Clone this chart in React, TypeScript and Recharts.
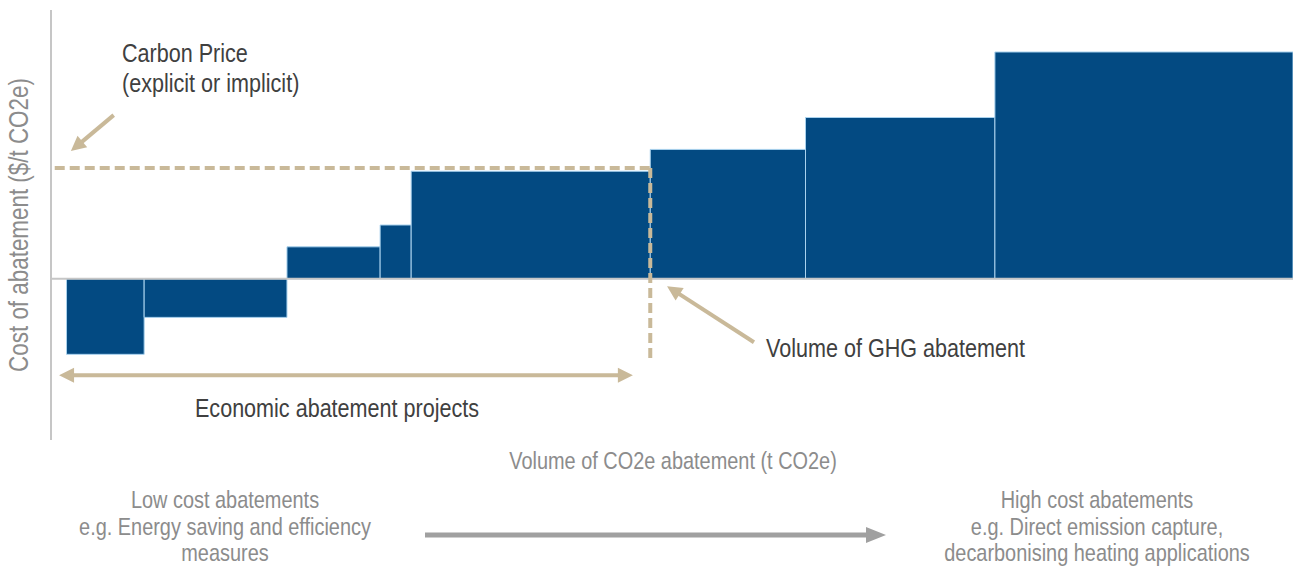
import { ComposedChart, XAxis, YAxis, ReferenceArea, ReferenceLine } from 'recharts'

// abatement projects, ordered by cost (volume in t CO2e units, cost in $/t CO2e)
const startVolume = 2.5
const volumes = [12.5, 23, 15, 5, 38.5, 25, 30.5, 48]
const costs = [-22.5, -11.5, 9.5, 16, 32, 38.5, 48, 67.5]
const carbonPrice = 33
const economicEnd = 96.5

// annotation arrows in chart units: [x1, y1, x2, y2]
const priceArrow = [10.1, 48.7, 3.2, 38]
const ghgArrow = [113.2, -18.9, 99.2, -2.2]
const economicArrow = [1.3, -28.7, 93.7, -28.7]

const BAR = '#034a82'
const TAN = '#c9b999'
const GRID = '#c6c6c6'
const FONT = "'Liberation Sans', Arial, sans-serif"
const NARROW = 0.83

// build the blocks from the cumulative volumes
const blocks = volumes.map((v, i) => {
    const x1 = startVolume + volumes.slice(0, i).reduce((a, b) => a + b, 0)
    return { x: x1, x2: x1 + v, cost: costs[i] }
})

function head(x1: number, y1: number, x2: number, y2: number, len: number, half: number) {
    const a = Math.atan2(y2 - y1, x2 - x1)
    const bx = x2 - len * Math.cos(a)
    const by = y2 - len * Math.sin(a)
    const px = -Math.sin(a) * half
    const py = Math.cos(a) * half
    return `${x2},${y2} ${bx + px},${by + py} ${bx - px},${by - py}`
}

// arrow drawn between the reference segment's two points
function arrowShape(both: boolean) {
    return (props: any) => {
        const { x1, y1, x2, y2 } = props
        const a = Math.atan2(y2 - y1, x2 - x1)
        const inset = 12
        const sx = both ? x1 + inset * Math.cos(a) : x1
        const sy = both ? y1 + inset * Math.sin(a) : y1
        return (
            <g>
                <line x1={sx} y1={sy} x2={x2 - inset * Math.cos(a)} y2={y2 - inset * Math.sin(a)} stroke={TAN} strokeWidth={4} />
                <polygon points={head(x1, y1, x2, y2, 15, 7.5)} fill={TAN} />
                {both && <polygon points={head(x2, y2, x1, y1, 15, 7.5)} fill={TAN} />}
            </g>
        )
    }
}

// dashed guide line
function dashShape(props: any) {
    const { x1, y1, x2, y2 } = props
    return <line x1={x1} y1={y1} x2={x2} y2={y2} stroke={TAN} strokeWidth={4} strokeDasharray="10 5" />
}

const seg = (a: number[]) => [{ x: a[0], y: a[1] }, { x: a[2], y: a[3] }]

// narrow text: Liberation Sans squeezed like Arial Narrow
function T({ x, y, size, fill, anchor = 'start', rotate = 0, children }: any) {
    return (
        <text
            transform={`translate(${x} ${y}) rotate(${rotate}) scale(${NARROW} 1)`}
            fontSize={size}
            fill={fill}
            textAnchor={anchor}
        >
            {children}
        </text>
    )
}

export default function App() {
    return (
        <div style={{ position: 'absolute', left: 0, top: 0, width: 1293, height: 566, background: '#fff', fontFamily: FONT }}>
            <ComposedChart width={1293} height={566} data={blocks} margin={{ top: 10, right: 0, bottom: 126, left: 51 }}>
                <XAxis type="number" dataKey="x" domain={[0, 200]} allowDataOverflow hide />
                <YAxis type="number" dataKey="cost" domain={[-48, 80]} allowDataOverflow hide />
                <ReferenceLine x={0} stroke={GRID} strokeWidth={2} />
                <ReferenceLine y={0} stroke={GRID} strokeWidth={2} />
                {blocks.map((b, i) => (
                    <ReferenceArea
                        key={i}
                        x1={b.x}
                        x2={b.x2}
                        y1={0}
                        y2={b.cost}
                        fill={BAR}
                        fillOpacity={1}
                        stroke="#a9d2ee"
                        strokeWidth={1}
                    />
                ))}
                <ReferenceLine segment={[{ x: 0.6, y: carbonPrice }, { x: economicEnd, y: carbonPrice }]} shape={dashShape} />
                <ReferenceLine segment={[{ x: economicEnd, y: carbonPrice }, { x: economicEnd, y: -25 }]} shape={dashShape} />
                <ReferenceLine segment={seg(priceArrow)} shape={arrowShape(false)} />
                <ReferenceLine segment={seg(ghgArrow)} shape={arrowShape(false)} />
                <ReferenceLine segment={seg(economicArrow)} shape={arrowShape(true)} />
            </ComposedChart>
            <svg width={1293} height={566} style={{ position: 'absolute', left: 0, top: 0, pointerEvents: 'none' }} fontFamily={FONT}>
                <T x={122} y={62} size={26} fill="#404040">Carbon Price</T>
                <T x={122} y={92} size={26} fill="#404040">(explicit or implicit)</T>
                <T x={766} y={357} size={26} fill="#404040">Volume of GHG abatement</T>
                <T x={337} y={417} size={26} fill="#404040" anchor="middle">Economic abatement projects</T>
                <T x={28} y={225} size={27} fill="#8c8c8c" anchor="middle" rotate={-90}>Cost of abatement ($/t CO2e)</T>
                <T x={673} y={469} size={24} fill="#8c8c8c" anchor="middle">Volume of CO2e abatement (t CO2e)</T>
                <T x={225} y={508} size={24} fill="#8c8c8c" anchor="middle">Low cost abatements</T>
                <T x={225} y={535} size={24} fill="#8c8c8c" anchor="middle">e.g. Energy saving and efficiency</T>
                <T x={225} y={561} size={24} fill="#8c8c8c" anchor="middle">measures</T>
                <T x={1097} y={508} size={24} fill="#8c8c8c" anchor="middle">High cost abatements</T>
                <T x={1097} y={535} size={24} fill="#8c8c8c" anchor="middle">e.g. Direct emission capture,</T>
                <T x={1097} y={561} size={24} fill="#8c8c8c" anchor="middle">decarbonising heating applications</T>
                <line x1={425} y1={535} x2={868} y2={535} stroke="#a0a0a0" strokeWidth={5} />
                <polygon points="866,527 886,535 866,543" fill="#a0a0a0" />
            </svg>
        </div>
    )
}
